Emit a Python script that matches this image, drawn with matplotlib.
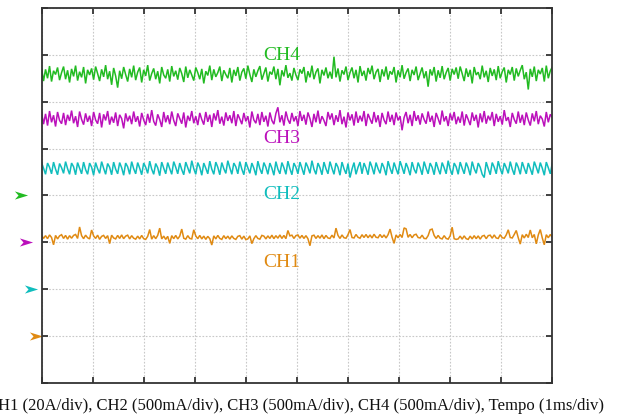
import numpy as np
import matplotlib
matplotlib.use("Agg")
import matplotlib.pyplot as plt
from matplotlib.path import Path
from matplotlib.transforms import blended_transform_factory

# Scope settings
channels = ["CH1", "CH2", "CH3", "CH4"]
volts_per_div = [20.0, 500.0, 500.0, 500.0]      # CH1 in A/div, CH2..CH4 in mA/div
ground_div = [1, 2, 3, 4]                        # ground reference marker of each channel
colors = ["#e08a12", "#10bdbd", "#bb10bb", "#22bb22"]
time_ms_per_div = 1.0
n_xdiv, n_ydiv = 10, 8
caption = ("CH1 (20A/div), CH2 (500mA/div), CH3 (500mA/div), "
           "CH4 (500mA/div), Tempo (1ms/div)")

# Captured samples
ch1_A = [
    43.0, 41.6, 42.8, 41.5, 43.1, 42.0, 38.9, 42.9, 41.4, 42.7, 43.2, 41.6, 42.9, 41.3, 42.8, 41.7,
    42.9, 43.3, 41.6, 46.5, 42.8, 41.5, 43.0, 41.9, 41.4, 45.2, 42.7, 41.6, 43.0, 41.2, 42.5, 42.9,
    41.6, 42.8, 39.4, 43.0, 41.8, 41.4, 42.9, 41.6, 43.1, 41.5, 42.6, 43.0, 41.4, 42.8, 41.7, 41.3,
    42.6, 41.4, 42.9, 41.5, 41.2, 42.5, 45.4, 41.3, 42.8, 41.5, 42.9, 46.0, 41.4, 42.6, 41.2, 42.5,
    39.5, 42.8, 41.5, 42.9, 41.4, 42.6, 45.6, 41.7, 41.3, 42.8, 41.6, 41.4, 45.3, 42.7, 41.5, 42.9,
    41.4, 42.6, 41.2, 42.5, 41.5, 38.8, 42.7, 41.4, 42.9, 41.6, 41.2, 42.8, 41.5, 42.6, 41.3, 42.7,
    41.6, 41.2, 42.5, 42.8, 41.3, 42.6, 41.1, 41.4, 42.7, 39.4, 41.5, 42.8, 41.6, 41.3, 42.9, 42.6,
    41.4, 42.7, 41.6, 43.0, 41.5, 42.8, 41.7, 43.1, 41.6, 42.9, 41.5, 45.0, 42.7, 43.0, 41.6, 42.8,
    43.1, 41.7, 42.9, 41.6, 42.8, 41.5, 38.5, 42.7, 43.0, 41.6, 42.8, 41.7, 43.1, 41.5, 42.9, 41.8,
    41.6, 43.0, 41.8, 46.0, 42.9, 41.6, 43.1, 41.9, 41.7, 43.2, 45.4, 42.0, 41.8, 43.3, 42.1, 41.7,
    43.2, 42.0, 43.3, 41.9, 43.1, 41.8, 43.4, 42.1, 41.9, 43.3, 42.0, 43.1, 41.8, 43.2, 45.6, 42.1,
    39.5, 43.1, 41.9, 43.3, 42.0, 46.1, 45.7, 42.1, 43.3, 41.9, 43.1, 43.4, 42.0, 41.8, 43.0, 41.6,
    41.5, 42.8, 45.3, 45.6, 42.9, 41.6, 42.9, 41.7, 41.4, 42.8, 41.6, 41.3, 42.7, 46.4, 41.5, 41.2,
    41.4, 42.6, 41.3, 42.7, 41.5, 41.2, 42.6, 41.4, 42.8, 41.5, 42.7, 41.3, 42.6, 42.9, 41.5, 42.8,
    43.0, 41.7, 43.1, 41.8, 41.6, 43.2, 41.9, 41.7, 43.1, 45.3, 42.0, 41.8, 43.3, 45.0, 41.9, 39.2,
    43.2, 41.8, 43.4, 42.0, 45.2, 41.9, 43.3, 39.3, 43.1, 45.4, 41.8, 38.9, 43.2, 41.9, 43.3, 42.0,
]

ch2_mA = [
    1350, 1290, 1225, 1345, 1300, 1230, 1355, 1280, 1220, 1340, 1295, 1235, 1360, 1285, 1225, 1345,
    1305, 1220, 1350, 1290, 1230, 1355, 1275, 1225, 1345, 1300, 1215, 1350, 1285, 1235, 1360, 1290,
    1225, 1340, 1300, 1220, 1355, 1280, 1230, 1350, 1295, 1215, 1345, 1305, 1225, 1360, 1285, 1230,
    1350, 1290, 1220, 1345, 1300, 1235, 1365, 1280, 1225, 1340, 1295, 1210, 1355, 1290, 1230, 1350,
    1285, 1225, 1360, 1300, 1230, 1345, 1275, 1220, 1355, 1295, 1235, 1370, 1285, 1225, 1350, 1300,
    1215, 1345, 1290, 1230, 1365, 1280, 1225, 1355, 1300, 1220, 1350, 1285, 1235, 1370, 1295, 1225,
    1345, 1305, 1230, 1360, 1280, 1220, 1355, 1295, 1235, 1345, 1290, 1215, 1365, 1285, 1230, 1350,
    1300, 1225, 1345, 1290, 1215, 1360, 1280, 1230, 1350, 1295, 1225, 1365, 1285, 1220, 1345, 1300,
    1230, 1355, 1290, 1220, 1350, 1300, 1235, 1370, 1280, 1225, 1345, 1295, 1220, 1355, 1285, 1230,
    1360, 1290, 1225, 1345, 1300, 1215, 1355, 1285, 1230, 1340, 1190, 1280, 1350, 1225, 1300, 1355,
    1230, 1345, 1290, 1220, 1360, 1300, 1225, 1350, 1285, 1235, 1345, 1295, 1215, 1365, 1290, 1230,
    1350, 1285, 1225, 1365, 1300, 1230, 1345, 1290, 1215, 1355, 1280, 1235, 1350, 1295, 1220, 1360,
    1290, 1230, 1345, 1300, 1220, 1355, 1285, 1225, 1350, 1295, 1230, 1370, 1280, 1220, 1345, 1305,
    1225, 1355, 1290, 1230, 1350, 1295, 1215, 1360, 1285, 1235, 1345, 1300, 1225, 1190, 1355, 1285,
    1220, 1350, 1300, 1230, 1365, 1285, 1225, 1345, 1295, 1235, 1360, 1280, 1220, 1350, 1300, 1225,
    1355, 1290, 1230, 1345, 1285, 1220, 1360, 1300, 1235, 1350, 1290, 1215, 1355, 1295, 1230, 1345,
]

ch3_mA = [
    1385, 1260, 1370, 1245, 1400, 1280, 1355, 1235, 1390, 1300, 1265, 1380, 1250, 1360, 1295, 1405,
    1270, 1345, 1230, 1395, 1310, 1255, 1375, 1285, 1350, 1240, 1390, 1305, 1265, 1380, 1225, 1365,
    1300, 1400, 1255, 1340, 1275, 1385, 1240, 1360, 1320, 1215, 1375, 1290, 1350, 1260, 1395, 1285,
    1345, 1235, 1380, 1305, 1250, 1370, 1275, 1410, 1290, 1245, 1365, 1310, 1230, 1390, 1280, 1355,
    1260, 1395, 1300, 1240, 1375, 1320, 1265, 1385, 1225, 1350, 1295, 1400, 1270, 1345, 1250, 1380,
    1310, 1255, 1390, 1285, 1360, 1230, 1375, 1300, 1410, 1265, 1340, 1245, 1385, 1295, 1355, 1270,
    1400, 1240, 1365, 1315, 1260, 1380, 1290, 1345, 1225, 1395, 1305, 1270, 1370, 1250, 1390, 1285,
    1350, 1235, 1385, 1300, 1260, 1375, 1440, 1280, 1355, 1245, 1395, 1310, 1265, 1380, 1290, 1345,
    1240, 1400, 1295, 1360, 1255, 1385, 1320, 1230, 1370, 1280, 1405, 1265, 1345, 1300, 1240, 1390,
    1310, 1375, 1250, 1355, 1285, 1410, 1260, 1340, 1225, 1385, 1300, 1365, 1245, 1395, 1275, 1350,
    1290, 1400, 1240, 1370, 1315, 1265, 1390, 1280, 1355, 1230, 1380, 1305, 1260, 1395, 1285, 1360,
    1250, 1385, 1300, 1345, 1195, 1330, 1390, 1270, 1360, 1240, 1400, 1295, 1355, 1255, 1375, 1310,
    1265, 1395, 1285, 1350, 1230, 1380, 1320, 1255, 1405, 1290, 1345, 1240, 1375, 1300, 1390, 1260,
    1340, 1275, 1395, 1245, 1365, 1310, 1250, 1385, 1295, 1360, 1225, 1375, 1280, 1400, 1265, 1350,
    1300, 1390, 1240, 1370, 1285, 1345, 1255, 1410, 1295, 1335, 1230, 1380, 1310, 1265, 1395, 1275,
    1360, 1250, 1385, 1305, 1245, 1375, 1290, 1400, 1260, 1350, 1315, 1235, 1390, 1280, 1365, 1330,
]

ch4_mA = [
    1360, 1220, 1345, 1250, 1380, 1215, 1330, 1290, 1365, 1230, 1310, 1375, 1240, 1335, 1205, 1350,
    1270, 1385, 1225, 1320, 1260, 1370, 1195, 1340, 1285, 1355, 1235, 1375, 1300, 1220, 1345, 1265,
    1390, 1240, 1325, 1180, 1360, 1275, 1150, 1330, 1245, 1370, 1290, 1215, 1350, 1260, 1385, 1230,
    1315, 1365, 1205, 1340, 1275, 1390, 1225, 1300, 1355, 1240, 1325, 1195, 1370, 1285, 1250, 1345,
    1215, 1380, 1270, 1330, 1235, 1360, 1300, 1210, 1375, 1255, 1340, 1285, 1225, 1365, 1310, 1240,
    1350, 1195, 1325, 1280, 1385, 1230, 1345, 1265, 1310, 1375, 1220, 1335, 1290, 1250, 1360, 1205,
    1340, 1275, 1370, 1225, 1315, 1355, 1245, 1385, 1290, 1210, 1345, 1265, 1330, 1380, 1235, 1300,
    1365, 1215, 1320, 1290, 1375, 1240, 1350, 1175, 1335, 1270, 1390, 1255, 1305, 1225, 1360, 1285,
    1230, 1345, 1300, 1370, 1205, 1325, 1260, 1385, 1240, 1315, 1355, 1195, 1340, 1280, 1365, 1250,
    1320, 1245, 1480, 1260, 1355, 1215, 1335, 1290, 1375, 1230, 1310, 1365, 1250, 1340, 1205, 1380,
    1275, 1330, 1225, 1360, 1295, 1385, 1240, 1315, 1350, 1210, 1345, 1270, 1375, 1235, 1325, 1290,
    1370, 1205, 1335, 1260, 1390, 1245, 1310, 1355, 1220, 1340, 1285, 1375, 1230, 1300, 1365, 1250,
    1325, 1160, 1345, 1280, 1370, 1215, 1335, 1255, 1380, 1240, 1310, 1360, 1225, 1350, 1290, 1365,
    1245, 1375, 1300, 1220, 1355, 1265, 1340, 1195, 1370, 1285, 1315, 1240, 1385, 1260, 1330, 1210,
    1360, 1275, 1345, 1230, 1380, 1250, 1320, 1365, 1205, 1340, 1290, 1370, 1225, 1355, 1270, 1335,
    1390, 1240, 1315, 1130, 1350, 1265, 1375, 1220, 1340, 1295, 1360, 1215, 1385, 1250, 1330, 1370,
]

traces = [ch1_A, ch2_mA, ch3_mA, ch4_mA]

# Label placement (divisions): x centre, baseline
label_x = [4.71, 4.71, 4.71, 4.71]
label_y = [2.47, 3.92, 5.12, 6.90]
# Ground marker horizontal offsets (axes fraction, staggered)
marker_x = [-0.0117, -0.0215, -0.031, -0.041]

plt.rcParams["font.family"] = ["Liberation Serif", "DejaVu Serif"]

fig = plt.figure(figsize=(6.18, 4.19), dpi=100)
ax = fig.add_axes([0.0672, 0.0866, 0.8265, 0.8943])

for vals, scale, gnd, col in zip(traces, volts_per_div, ground_div, colors):
    vals = np.asarray(vals, dtype=float)
    t = np.linspace(0, n_xdiv * time_ms_per_div, len(vals))
    ax.plot(t, gnd + vals / scale, color=col, lw=1.1, solid_joinstyle="miter")

for name, lx, ly, col in zip(channels, label_x, label_y, colors):
    ax.text(lx, ly, name, color=col, fontsize=14, ha="center", va="baseline")

# Ground reference arrows outside the left edge
arrow = Path([(-1.0, 0.62), (1.0, 0.0), (-1.0, -0.62), (-0.45, 0.0), (-1.0, 0.62)],
             [Path.MOVETO, Path.LINETO, Path.LINETO, Path.LINETO, Path.CLOSEPOLY])
trans = blended_transform_factory(ax.transAxes, ax.transData)
for mx, gnd, col in zip(marker_x, ground_div, colors):
    ax.plot([mx], [gnd], marker=arrow, markersize=9.5, color=col,
            markeredgewidth=0, transform=trans, clip_on=False)

ax.set_xlim(0, n_xdiv * time_ms_per_div)
ax.set_ylim(0, n_ydiv)
ax.set_xticks(np.arange(0, n_xdiv + 1))
ax.set_yticks(np.arange(0, n_ydiv + 1))
ax.set_xticklabels([])
ax.set_yticklabels([])
ax.tick_params(direction="in", length=4, width=1.3, color="#333333",
               top=True, right=True, bottom=True, left=True)
ax.grid(True, color="#c8c8c8", linestyle=(0, (1.5, 1.5)), linewidth=0.8)
ax.set_axisbelow(True)
for s in ax.spines.values():
    s.set_color("#333333")
    s.set_linewidth(1.3)

fig.text(604 / 618, (419 - 409.5) / 419, caption, fontsize=12,
         ha="right", va="baseline", color="#111111")

fig.savefig("out.png", dpi=100)
